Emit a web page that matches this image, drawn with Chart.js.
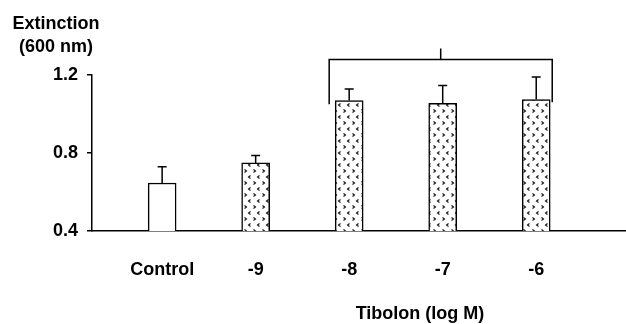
<!DOCTYPE html>
<html>
<head>
<meta charset="utf-8">
<script src="https://cdn.jsdelivr.net/npm/chart.js@4"></script>
<style>
  html, body { margin: 0; padding: 0; background: #fff; }
  #wrap { width: 626px; height: 324px; }
</style>
</head>
<body>
<div id="wrap"><canvas id="chart" width="626" height="324"></canvas></div>
<script>
const categories = ['Control', '-9', '-8', '-7', '-6'];
const extinction = [0.646, 0.749, 1.069, 1.055, 1.074];
const errors = [0.084, 0.038, 0.059, 0.091, 0.116];
const yTicks = [0.4, 0.8, 1.2];
const bracketFrom = 2, bracketTo = 4, bracketLevel = 1.28; // significance bracket over -8..-6

const FONT = 'bold 18px "Liberation Sans", Arial, sans-serif';

// small "> <" chevron pattern for the tibolon bars
function makePattern() {
    const c = document.createElement('canvas');
    c.width = 9; c.height = 12;
    const g = c.getContext('2d');
    g.fillStyle = '#fff';
    g.fillRect(0, 0, 9, 12);
    g.strokeStyle = '#111';
    g.lineWidth = 1.1;
    g.beginPath();
    g.moveTo(1.5, 1.5); g.lineTo(3.5, 3); g.lineTo(1.5, 4.5);   // >
    g.moveTo(7.5, 7.5); g.lineTo(5.5, 9); g.lineTo(7.5, 10.5);  // <
    g.stroke();
    return g.createPattern(c, 'repeat');
}
const pattern = makePattern();

const errorBars = {
    id: 'errorBars',
    afterDatasetsDraw(chart) {
        const ctx = chart.ctx;
        const y = chart.scales.y;
        const meta = chart.getDatasetMeta(0);
        ctx.save();
        ctx.strokeStyle = '#000';
        ctx.lineWidth = 1.5;
        meta.data.forEach((bar, i) => {
            const top = y.getPixelForValue(extinction[i] + errors[i]);
            const base = y.getPixelForValue(extinction[i]);
            ctx.beginPath();
            ctx.moveTo(bar.x, base);
            ctx.lineTo(bar.x, top);
            ctx.moveTo(bar.x - 4.5, top);
            ctx.lineTo(bar.x + 4.5, top);
            ctx.stroke();
        });
        ctx.restore();
    }
};

const bracket = {
    id: 'bracket',
    afterDatasetsDraw(chart) {
        const ctx = chart.ctx;
        const x = chart.scales.x, y = chart.scales.y;
        const meta = chart.getDatasetMeta(0);
        const half = meta.data[bracketFrom].width / 2;
        const left = x.getPixelForValue(bracketFrom) - half - 6;
        const right = x.getPixelForValue(bracketTo) + half + 2;
        const top = y.getPixelForValue(bracketLevel);
        const legL = y.getPixelForValue(1.05);
        const legR = y.getPixelForValue(1.06);
        const mid = (left + right) / 2;
        ctx.save();
        ctx.strokeStyle = '#000';
        ctx.lineWidth = 1.5;
        ctx.beginPath();
        ctx.moveTo(left, legL);
        ctx.lineTo(left, top);
        ctx.lineTo(right, top);
        ctx.lineTo(right, legR);
        ctx.moveTo(mid, top);
        ctx.lineTo(mid, top - 11);
        ctx.stroke();
        ctx.restore();
    }
};

const axisTitles = {
    id: 'axisTitles',
    afterDraw(chart) {
        const ctx = chart.ctx;
        ctx.save();
        ctx.fillStyle = '#000';
        ctx.font = FONT;
        ctx.textAlign = 'center';
        ctx.textBaseline = 'alphabetic';
        ctx.fillText('Extinction', 56, 29);
        ctx.fillText('(600 nm)', 56, 52);
        ctx.fillText('Tibolon (log M)', 420, 319);
        ctx.restore();
    }
};

new Chart(document.getElementById('chart'), {
    type: 'bar',
    data: {
        datasets: [{
            data: extinction.map((v, i) => ({ x: i, y: v })),
            backgroundColor: extinction.map((v, i) => i === 0 ? '#fff' : pattern),
            borderColor: '#000',
            borderWidth: 1.5,
            borderSkipped: 'bottom',
            barThickness: 28
        }]
    },
    options: {
        responsive: false,
        animation: false,
        layout: { padding: { top: 75, left: 0, right: 0, bottom: 0 } },
        plugins: {
            legend: { display: false },
            tooltip: { enabled: false }
        },
        scales: {
            x: {
                type: 'linear',
                offset: false,
                min: -0.75,
                max: 4.96,
                afterFit: s => { s.height = 93; },
                afterBuildTicks: s => { s.ticks = categories.map((c, i) => ({ value: i })); },
                grid: { display: false },
                border: { display: true, color: '#000', width: 1.5 },
                ticks: {
                    padding: 20,
                    color: '#000',
                    font: { family: '"Liberation Sans", Arial, sans-serif', size: 18, weight: 'bold' },
                    callback: v => categories[v]
                }
            },
            y: {
                min: 0.4,
                max: 1.2,
                afterFit: s => { s.width = 92; },
                afterBuildTicks: s => { s.ticks = yTicks.map(v => ({ value: v })); },
                grid: { drawOnChartArea: false, drawTicks: true, tickLength: 5, color: '#000', lineWidth: 1.5 },
                border: { display: true, color: '#000', width: 1.5 },
                ticks: {
                    padding: 9,
                    color: '#000',
                    font: { family: '"Liberation Sans", Arial, sans-serif', size: 18, weight: 'bold' },
                    callback: v => v.toFixed(1)
                }
            }
        }
    },
    plugins: [errorBars, bracket, axisTitles]
});
</script>
</body>
</html>
